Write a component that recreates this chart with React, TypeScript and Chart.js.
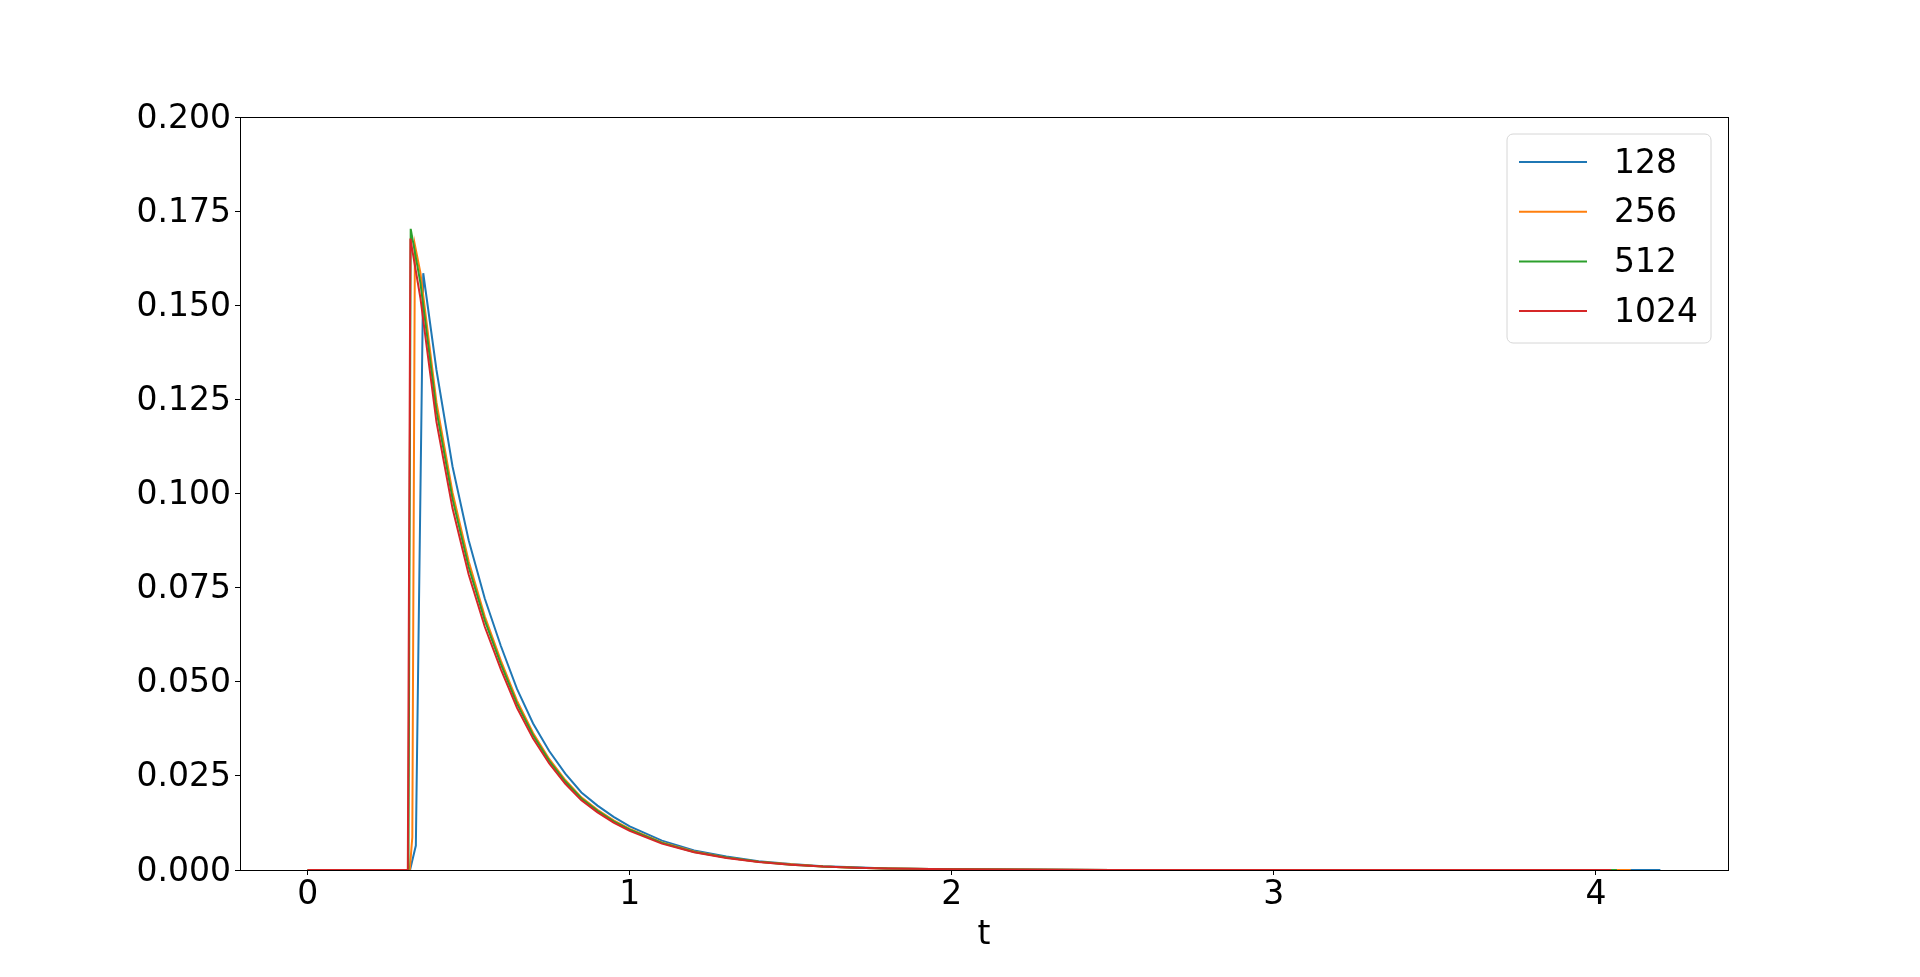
import React, { useEffect, useRef } from "react";
import { Chart, registerables } from "chart.js";

Chart.register(...registerables);

// ---- data ----
const seriesLabels = ["128", "256", "512", "1024"];
const seriesColors = ["#1f77b4", "#ff7f0e", "#2ca02c", "#d62728"];

const t128 = [0, 0.318, 0.336, 0.359, 0.40, 0.45, 0.50, 0.55, 0.60, 0.65, 0.70, 0.75, 0.80, 0.85, 0.90, 0.95, 1.00, 1.10, 1.20, 1.30, 1.40, 1.50, 1.60, 1.70, 1.80, 2.00, 2.50, 3.00, 4.20];
const v128 = [0, 0, 0.0065, 0.1585, 0.1328, 0.1071, 0.0876, 0.0721, 0.0595, 0.0481, 0.0389, 0.0316, 0.0256, 0.0206, 0.0171, 0.0141, 0.0116, 0.0078, 0.0052, 0.0036, 0.0023, 0.0016, 0.0010, 0.0007, 0.0004, 0.0002, 0.00003, 0, 0];

const t256 = [0, 0.317, 0.325, 0.333, 0.35, 0.40, 0.45, 0.50, 0.55, 0.60, 0.65, 0.70, 0.75, 0.80, 0.85, 0.90, 0.95, 1.00, 1.10, 1.20, 1.30, 1.40, 1.50, 1.60, 1.70, 1.80, 2.00, 2.50, 3.00, 4.108];
const v256 = [0, 0, 0.0087, 0.166, 0.1587, 0.1242, 0.1002, 0.0820, 0.0674, 0.0556, 0.0450, 0.0364, 0.0295, 0.0239, 0.0193, 0.0160, 0.0132, 0.0109, 0.0073, 0.0049, 0.0033, 0.0022, 0.0015, 0.0009, 0.0006, 0.0004, 0.0002, 0.00003, 0, 0];

const t512 = [0, 0.313, 0.320, 0.35, 0.40, 0.45, 0.50, 0.55, 0.60, 0.65, 0.70, 0.75, 0.80, 0.85, 0.90, 0.95, 1.00, 1.10, 1.20, 1.30, 1.40, 1.50, 1.60, 1.70, 1.80, 2.00, 2.50, 3.00, 4.065];
const v512 = [0, 0, 0.1703, 0.156, 0.122, 0.0985, 0.0805, 0.0663, 0.0547, 0.0442, 0.0358, 0.0290, 0.0235, 0.0190, 0.0157, 0.0129, 0.0107, 0.0072, 0.0048, 0.0033, 0.0022, 0.0014, 0.0009, 0.0006, 0.0004, 0.0002, 0.00003, 0, 0];

const t1024 = [0, 0.311, 0.319, 0.35, 0.40, 0.45, 0.50, 0.55, 0.60, 0.65, 0.70, 0.75, 0.80, 0.85, 0.90, 0.95, 1.00, 1.10, 1.20, 1.30, 1.40, 1.50, 1.60, 1.70, 1.80, 2.00, 2.50, 3.00, 4.047];
const v1024 = [0, 0, 0.1677, 0.152, 0.119, 0.096, 0.0785, 0.0646, 0.0533, 0.0431, 0.0349, 0.0283, 0.0229, 0.0185, 0.0153, 0.0126, 0.0104, 0.0070, 0.0047, 0.0032, 0.0021, 0.0014, 0.0009, 0.0006, 0.0004, 0.0002, 0.00003, 0, 0];

const xTickValues = [0, 1, 2, 3, 4];
const yTickValues = [0, 0.025, 0.05, 0.075, 0.1, 0.125, 0.15, 0.175, 0.2];
const xAxisTitle = "t";

const FONT = "'DejaVu Sans', sans-serif";

const toPoints = (xs: number[], ys: number[]) => xs.map((x, i) => ({ x, y: ys[i] }));

const frameAndLegend = {
  id: "frameAndLegend",
  afterDraw(chart: any) {
    const { ctx, chartArea } = chart;
    ctx.save();
    // axes frame
    ctx.strokeStyle = "#000";
    ctx.lineWidth = 1;
    ctx.strokeRect(
      Math.round(chartArea.left) + 0.5,
      Math.round(chartArea.top) + 0.5,
      Math.round(chartArea.right - chartArea.left),
      Math.round(chartArea.bottom - chartArea.top)
    );
    // legend box
    const bx = 1507, by = 134, bw = 204, bh = 209, r = 6;
    ctx.beginPath();
    ctx.moveTo(bx + r, by);
    ctx.lineTo(bx + bw - r, by);
    ctx.arcTo(bx + bw, by, bx + bw, by + r, r);
    ctx.lineTo(bx + bw, by + bh - r);
    ctx.arcTo(bx + bw, by + bh, bx + bw - r, by + bh, r);
    ctx.lineTo(bx + r, by + bh);
    ctx.arcTo(bx, by + bh, bx, by + bh - r, r);
    ctx.lineTo(bx, by + r);
    ctx.arcTo(bx, by, bx + r, by, r);
    ctx.closePath();
    ctx.fillStyle = "rgba(255,255,255,0.8)";
    ctx.fill();
    ctx.strokeStyle = "#d6d6d6";
    ctx.lineWidth = 1;
    ctx.stroke();
    ctx.font = `33px ${FONT}`;
    ctx.textBaseline = "middle";
    ctx.textAlign = "left";
    chart.data.datasets.forEach((ds: any, i: number) => {
      const y = 162 + i * 49.7;
      ctx.beginPath();
      ctx.strokeStyle = ds.borderColor;
      ctx.lineWidth = 2;
      ctx.moveTo(1519, y);
      ctx.lineTo(1587, y);
      ctx.stroke();
      ctx.fillStyle = "#000";
      ctx.fillText(ds.label, 1614, y + 2);
    });
    ctx.restore();
  },
};

export default function App() {
  const canvasRef = useRef<HTMLCanvasElement | null>(null);

  useEffect(() => {
    const canvas = canvasRef.current;
    if (!canvas) return;
    const tSets = [t128, t256, t512, t1024];
    const vSets = [v128, v256, v512, v1024];
    const chart = new Chart(canvas, {
      type: "line",
      data: {
        datasets: seriesLabels.map((label, i) => ({
          label,
          data: toPoints(tSets[i], vSets[i]),
          borderColor: seriesColors[i],
          backgroundColor: seriesColors[i],
          borderWidth: 2,
          pointRadius: 0,
          tension: 0,
          fill: false,
          order: seriesLabels.length - i,
        })),
      },
      options: {
        responsive: false,
        animation: false,
        devicePixelRatio: 1,
        layout: { padding: { left: 0, top: 117, right: 192, bottom: 0 } },
        plugins: {
          legend: { display: false },
          tooltip: { enabled: false },
        },
        scales: {
          x: {
            type: "linear",
            min: -0.21,
            max: 4.41,
            afterBuildTicks: (scale: any) => {
              scale.ticks = xTickValues.map((v) => ({ value: v }));
            },
            afterFit: (scale: any) => {
              scale.height = 107;
            },
            border: { display: false },
            grid: {
              drawOnChartArea: false,
              drawTicks: true,
              tickLength: 5,
              color: "#000",
              lineWidth: 1,
            },
            ticks: {
              font: { family: FONT, size: 33 },
              color: "#000",
              padding: 1,
              maxRotation: 0,
              autoSkip: false,
              callback: (v: any) => String(v),
            },
            title: {
              display: true,
              text: xAxisTitle,
              font: { family: FONT, size: 33 },
              color: "#000",
              padding: { top: 0, bottom: 22 },
            },
          },
          y: {
            type: "linear",
            min: 0,
            max: 0.2,
            afterBuildTicks: (scale: any) => {
              scale.ticks = yTickValues.map((v) => ({ value: v }));
            },
            afterFit: (scale: any) => {
              scale.width = 240;
            },
            border: { display: false },
            grid: {
              drawOnChartArea: false,
              drawTicks: true,
              tickLength: 5,
              color: "#000",
              lineWidth: 1,
            },
            ticks: {
              font: { family: FONT, size: 33 },
              color: "#000",
              padding: 4,
              labelOffset: 2,
              autoSkip: false,
              callback: (v: any) => Number(v).toFixed(3),
            },
          },
        },
      },
      plugins: [frameAndLegend],
    });
    return () => chart.destroy();
  }, []);

  return (
    <div style={{ position: "fixed", left: 0, top: 0, width: 1920, height: 977, background: "#fff" }}>
      <canvas ref={canvasRef} width={1920} height={977} style={{ display: "block" }} />
    </div>
  );
}
